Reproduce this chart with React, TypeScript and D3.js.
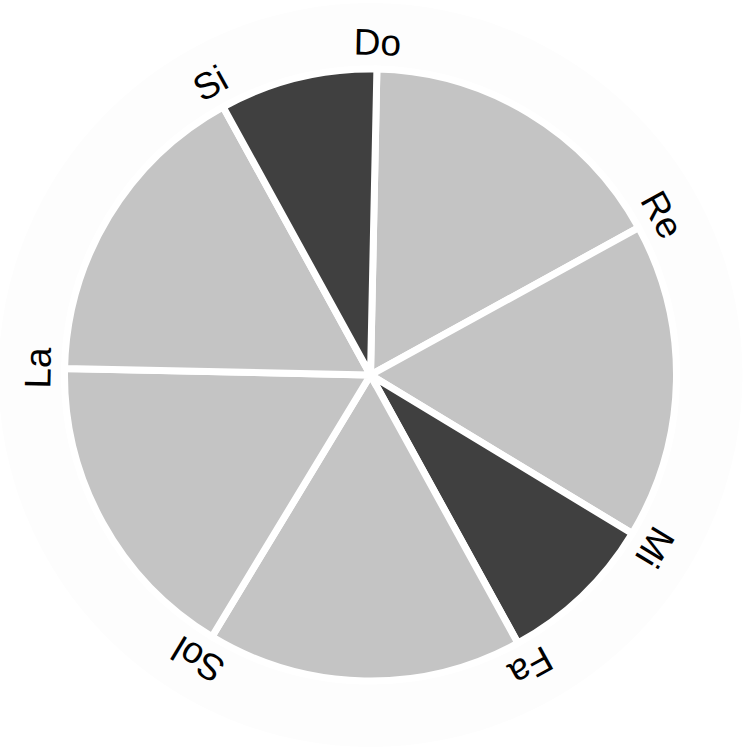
import React, { useEffect, useRef } from 'react';
import * as d3 from 'd3';

// solfège notes and the semitone step from each note to the next
const notes = ['Do', 'Re', 'Mi', 'Fa', 'Sol', 'La', 'Si'];
const steps = [2, 2, 1, 2, 2, 2, 1];

const App: React.FC = () => {
  const chartRef = useRef<SVGSVGElement | null>(null);

  useEffect(() => {
    const width = 749;
    const height = 749;
    const cx = 370.5;
    const cy = 375;
    const radius = 306;
    const offset = (1.2 * Math.PI) / 180;

    d3.select(chartRef.current).selectAll('*').remove();

    const svg = d3.select(chartRef.current)
      .attr('width', width)
      .attr('height', height);

    const g = svg.append('g')
      .attr('transform', `translate(${cx},${cy})`);

    // faint panel circle
    g.append('circle')
      .attr('r', 372)
      .attr('fill', '#fdfdfd');

    const data = notes.map((n, i) => ({ note: n, step: steps[i] }));

    const pie = d3.pie<{ note: string; step: number }>()
      .value(d => d.step)
      .sort(null)
      .startAngle(offset)
      .endAngle(offset + 2 * Math.PI);

    const arc = d3.arc<d3.PieArcDatum<{ note: string; step: number }>>()
      .innerRadius(0)
      .outerRadius(radius);

    const arcs = pie(data);

    g.selectAll('path.slice')
      .data(arcs)
      .enter().append('path')
      .attr('class', 'slice')
      .attr('d', arc)
      .attr('fill', d => d.data.step === 1 ? '#404040' : '#c4c4c4')
      .attr('stroke', '#ffffff')
      .attr('stroke-width', 7)
      .attr('stroke-linejoin', 'miter');

    g.selectAll('text.label')
      .data(arcs)
      .enter().append('text')
      .attr('class', 'label')
      .attr('transform', d => `rotate(${(d.startAngle * 180) / Math.PI}) translate(0,-320)`)
      .attr('text-anchor', 'middle')
      .attr('font-family', '"Liberation Sans", Arial, sans-serif')
      .attr('font-size', 37)
      .attr('fill', '#000000')
      .text(d => d.data.note);
  }, []);

  return (
    <svg ref={chartRef} style={{ position: 'absolute', left: 0, top: 0, display: 'block' }}></svg>
  );
};

export default App;
